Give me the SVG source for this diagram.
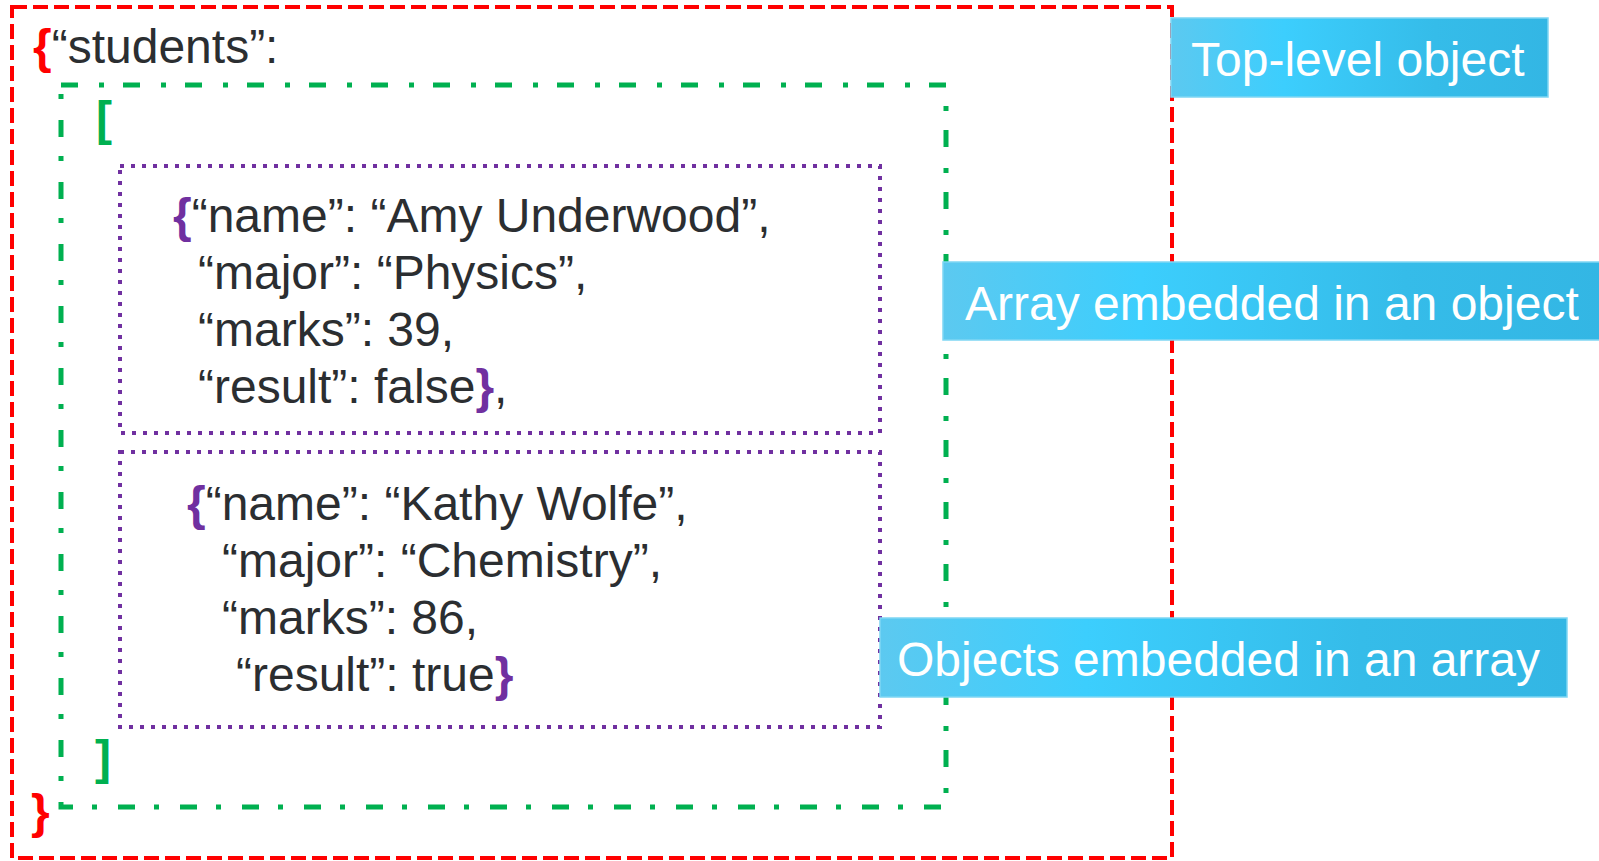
<svg xmlns="http://www.w3.org/2000/svg" width="1599" height="861" viewBox="0 0 1599 861">
<style>
.t{font-family:"Liberation Sans",Arial,sans-serif;font-size:48px;fill:#2b2e31}
.b{font-weight:bold}
.red{fill:#ff0000}.grn{fill:#00b050}.pur{fill:#7030a0}
.lbl{font-family:"Liberation Sans",Arial,sans-serif;font-size:48px;fill:#ffffff}
.box{fill:url(#bg);stroke:#7fd6f3;stroke-width:1.5}
</style>
<defs>
<linearGradient id="bg" x1="0" y1="0" x2="1" y2="0">
<stop offset="0" stop-color="#5cc9f0"/>
<stop offset="0.3" stop-color="#3ccefd"/>
<stop offset="0.7" stop-color="#35bce9"/>
<stop offset="1" stop-color="#33b6e4"/>
</linearGradient>
</defs>
<g id="connectors">
<rect x="12" y="7" width="1160" height="851" fill="none" stroke="#ff0000" stroke-width="4" stroke-dasharray="15 6"/>
<rect x="61" y="85" width="885" height="722" fill="none" stroke="#00b050" stroke-width="5" stroke-dasharray="17 21 5 19"/>
<rect x="120" y="166" width="760" height="267" fill="none" stroke="#7030a0" stroke-width="4" stroke-dasharray="4 7"/>
<rect x="120" y="452" width="760" height="275" fill="none" stroke="#7030a0" stroke-width="4" stroke-dasharray="4 7"/>
</g>
<g id="json-text">
<text class="t" x="33" y="63"><tspan class="b red">{</tspan>“students”:</text>
<text class="t b grn" x="96" y="135">[</text>
<text class="t" x="173" y="232"><tspan class="b pur">{</tspan>“name”: “Amy Underwood”,</text>
<text class="t" x="198" y="289">“major”: “Physics”,</text>
<text class="t" x="198" y="346">“marks”: 39,</text>
<text class="t" x="198" y="403">“result”: false<tspan class="b pur">}</tspan>,</text>
<text class="t" x="187" y="520"><tspan class="b pur">{</tspan>“name”: “Kathy Wolfe”,</text>
<text class="t" x="222" y="577">“major”: “Chemistry”,</text>
<text class="t" x="222" y="634">“marks”: 86,</text>
<text class="t" x="236" y="691">“result”: true<tspan class="b pur">}</tspan></text>
<text class="t b grn" x="95" y="774">]</text>
<text class="t b red" x="31" y="828">}</text>
</g>
<g id="label-top">
<rect class="box" x="1171" y="18" width="377" height="79"/>
<text class="lbl" x="1191" y="76">Top-level object</text>
</g>
<g id="label-array">
<rect class="box" x="943" y="262" width="660" height="78"/>
<text class="lbl" x="965" y="320">Array embedded in an object</text>
</g>
<g id="label-objects">
<rect class="box" x="880" y="618" width="687" height="79"/>
<text class="lbl" x="897" y="676">Objects embedded in an array</text>
</g>
</svg>
